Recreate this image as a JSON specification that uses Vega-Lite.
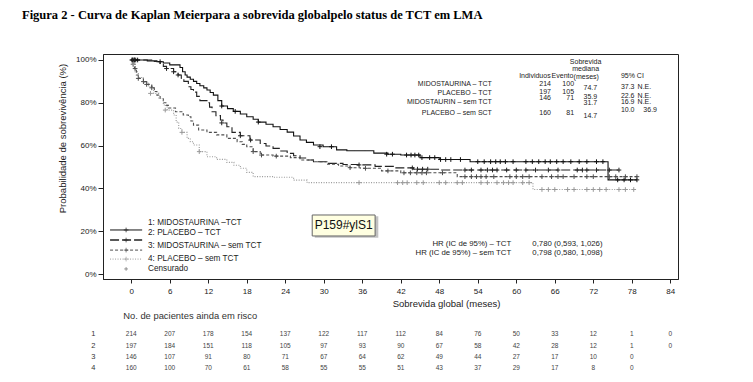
{
  "$schema": "https://vega.github.io/schema/vega-lite/v6.json",
  "width": 575,
  "height": 225,
  "autosize": {"type": "none"},
  "padding": {"left": 103, "top": 54, "right": 75, "bottom": 103},
  "background": "white",
  "config": {
    "font": "Liberation Sans",
    "view": {"stroke": "#222", "strokeWidth": 1}
  },
  "title": {
    "text": "Figura 2 - Curva de Kaplan Meierpara a sobrevida globalpelo status de TCT em LMA",
    "anchor": "start",
    "frame": "group",
    "dx": -81,
    "offset": 33,
    "font": "Liberation Serif",
    "fontSize": 12.5,
    "fontWeight": "bold",
    "color": "#000"
  },
  "datasets": {
    "curves": [
      {"g":"1","t":0,"s":100},{"g":"1","t":2.5,"s":99.6},{"g":"1","t":4,"s":99.2},{"g":"1","t":5,"s":98.6},{"g":"1","t":6,"s":97.7},{"g":"1","t":7.6,"s":96.5},{"g":"1","t":8,"s":94.5},{"g":"1","t":8.4,"s":93},{"g":"1","t":8.7,"s":92},{"g":"1","t":9.2,"s":91},{"g":"1","t":9.7,"s":90},{"g":"1","t":10.2,"s":89},{"g":"1","t":10.7,"s":88},{"g":"1","t":11.3,"s":87},{"g":"1","t":11.8,"s":86},{"g":"1","t":12.3,"s":84.8},{"g":"1","t":12.8,"s":83.6},{"g":"1","t":13.5,"s":81},{"g":"1","t":14.1,"s":78.5},{"g":"1","t":15,"s":77.3},{"g":"1","t":15.9,"s":76},{"g":"1","t":17,"s":74.8},{"g":"1","t":18,"s":73.5},{"g":"1","t":19,"s":72.3},{"g":"1","t":19.8,"s":71},{"g":"1","t":21,"s":70},{"g":"1","t":22.1,"s":68.8},{"g":"1","t":23.2,"s":67.5},{"g":"1","t":24.3,"s":66.3},{"g":"1","t":25.3,"s":64.5},{"g":"1","t":26.3,"s":62.6},{"g":"1","t":27.3,"s":61.5},{"g":"1","t":28.4,"s":60.3},{"g":"1","t":29.9,"s":59.5},{"g":"1","t":32,"s":58},{"g":"1","t":33.6,"s":57.6},{"g":"1","t":37.8,"s":56.5},{"g":"1","t":40,"s":56},{"g":"1","t":42,"s":55.6},{"g":"1","t":45,"s":54.4},{"g":"1","t":48,"s":53.5},{"g":"1","t":52.8,"s":52.5},{"g":"1","t":74.3,"s":44},{"g":"1","t":78.8,"s":44},
      {"g":"2","t":0,"s":100},{"g":"2","t":3.5,"s":99.3},{"g":"2","t":4.5,"s":98},{"g":"2","t":5,"s":97},{"g":"2","t":5.5,"s":96},{"g":"2","t":6.6,"s":94.5},{"g":"2","t":7.3,"s":93},{"g":"2","t":7.8,"s":91.5},{"g":"2","t":8.2,"s":90},{"g":"2","t":8.9,"s":87.5},{"g":"2","t":9.3,"s":86.2},{"g":"2","t":9.7,"s":85},{"g":"2","t":10.2,"s":83},{"g":"2","t":10.7,"s":81},{"g":"2","t":11.8,"s":80},{"g":"2","t":12.2,"s":78},{"g":"2","t":12.6,"s":75.8},{"g":"2","t":13.2,"s":74},{"g":"2","t":13.9,"s":72},{"g":"2","t":14.3,"s":70.6},{"g":"2","t":14.9,"s":68.8},{"g":"2","t":15.7,"s":66.2},{"g":"2","t":17,"s":64.6},{"g":"2","t":18.5,"s":62.6},{"g":"2","t":20.1,"s":61},{"g":"2","t":21,"s":59.8},{"g":"2","t":22.1,"s":58.7},{"g":"2","t":23.2,"s":57.5},{"g":"2","t":24.3,"s":56.4},{"g":"2","t":25.3,"s":55.3},{"g":"2","t":26.3,"s":54.2},{"g":"2","t":27.3,"s":53.3},{"g":"2","t":28.4,"s":52.5},{"g":"2","t":30.5,"s":51.7},{"g":"2","t":33,"s":51.2},{"g":"2","t":35.2,"s":51},{"g":"2","t":38,"s":50.3},{"g":"2","t":41,"s":49.6},{"g":"2","t":44,"s":49},{"g":"2","t":48,"s":48.6},{"g":"2","t":76,"s":48.6},
      {"g":"3","t":0,"s":100},{"g":"3","t":0.2,"s":98},{"g":"3","t":0.5,"s":96},{"g":"3","t":0.8,"s":93},{"g":"3","t":1.1,"s":91.4},{"g":"3","t":1.9,"s":89.9},{"g":"3","t":2.4,"s":88.6},{"g":"3","t":3.2,"s":87},{"g":"3","t":3.6,"s":85.3},{"g":"3","t":4,"s":83.6},{"g":"3","t":4.5,"s":82},{"g":"3","t":5,"s":80},{"g":"3","t":5.4,"s":78.8},{"g":"3","t":5.8,"s":77.6},{"g":"3","t":6.9,"s":75.8},{"g":"3","t":8.1,"s":74.3},{"g":"3","t":8.9,"s":73.5},{"g":"3","t":9.3,"s":71.5},{"g":"3","t":9.7,"s":69.6},{"g":"3","t":10.5,"s":67.3},{"g":"3","t":11.8,"s":66.2},{"g":"3","t":13.3,"s":65},{"g":"3","t":14.9,"s":63.4},{"g":"3","t":16.5,"s":61.8},{"g":"3","t":17.3,"s":60.6},{"g":"3","t":18,"s":59.5},{"g":"3","t":19,"s":57.2},{"g":"3","t":20.1,"s":55.6},{"g":"3","t":22.1,"s":55.1},{"g":"3","t":24.8,"s":54.4},{"g":"3","t":26.3,"s":53.3},{"g":"3","t":28.4,"s":52.5},{"g":"3","t":30.5,"s":51.3},{"g":"3","t":32.3,"s":50.5},{"g":"3","t":34.1,"s":49.7},{"g":"3","t":35.7,"s":49.4},{"g":"3","t":39,"s":48.2},{"g":"3","t":42,"s":47.3},{"g":"3","t":50.8,"s":45.5},{"g":"3","t":78.8,"s":45.5},
      {"g":"4","t":0,"s":100},{"g":"4","t":0.2,"s":98},{"g":"4","t":0.6,"s":94.5},{"g":"4","t":1.1,"s":91.8},{"g":"4","t":1.9,"s":89.6},{"g":"4","t":2.7,"s":87.5},{"g":"4","t":3.5,"s":84.4},{"g":"4","t":4.3,"s":82},{"g":"4","t":5,"s":79},{"g":"4","t":5.6,"s":76.6},{"g":"4","t":6.6,"s":74.3},{"g":"4","t":7,"s":71},{"g":"4","t":7.4,"s":68},{"g":"4","t":7.9,"s":66.2},{"g":"4","t":8.7,"s":63.4},{"g":"4","t":9.2,"s":61.8},{"g":"4","t":9.7,"s":60.3},{"g":"4","t":10.6,"s":57.2},{"g":"4","t":11.8,"s":54.8},{"g":"4","t":13.3,"s":53.6},{"g":"4","t":14.9,"s":52.2},{"g":"4","t":16,"s":50.8},{"g":"4","t":17,"s":49.4},{"g":"4","t":18,"s":47.5},{"g":"4","t":19,"s":45.5},{"g":"4","t":22.2,"s":45.2},{"g":"4","t":25.3,"s":43.9},{"g":"4","t":27.4,"s":42.7},{"g":"4","t":62.6,"s":39.5},{"g":"4","t":78.3,"s":39.5}
    ],
    "cens": [
      {"g":"1","t":0.1,"s":100},{"g":"1","t":0.3,"s":100},{"g":"1","t":0.5,"s":100},{"g":"1","t":0.7,"s":100},{"g":"1","t":1,"s":100},{"g":"1","t":4.5,"s":99.2},{"g":"1","t":14.1,"s":78.5},{"g":"1","t":16.2,"s":76},{"g":"1","t":19.8,"s":71},{"g":"1","t":29.4,"s":59.5},{"g":"1","t":31.2,"s":59.5},{"g":"1","t":39.8,"s":56},{"g":"1","t":40.7,"s":56},{"g":"1","t":42.9,"s":55.6},{"g":"1","t":43.6,"s":55.6},{"g":"1","t":44.2,"s":55.6},{"g":"1","t":44.8,"s":55.6},{"g":"1","t":45.3,"s":54.4},{"g":"1","t":46.5,"s":54.4},{"g":"1","t":47.3,"s":54.4},{"g":"1","t":48.2,"s":53.5},{"g":"1","t":49,"s":53.5},{"g":"1","t":49.8,"s":53.5},{"g":"1","t":51.3,"s":53.5},{"g":"1","t":54,"s":52.5},{"g":"1","t":55,"s":52.5},{"g":"1","t":56,"s":52.5},{"g":"1","t":56.8,"s":52.5},{"g":"1","t":57.5,"s":52.5},{"g":"1","t":58.3,"s":52.5},{"g":"1","t":59.5,"s":52.5},{"g":"1","t":61.5,"s":52.5},{"g":"1","t":62.5,"s":52.5},{"g":"1","t":63.5,"s":52.5},{"g":"1","t":64.5,"s":52.5},{"g":"1","t":65.3,"s":52.5},{"g":"1","t":66.3,"s":52.5},{"g":"1","t":67.3,"s":52.5},{"g":"1","t":68.5,"s":52.5},{"g":"1","t":69.8,"s":52.5},{"g":"1","t":71,"s":52.5},{"g":"1","t":72.5,"s":52.5},{"g":"1","t":73.5,"s":52.5},{"g":"1","t":75.8,"s":44},{"g":"1","t":76.8,"s":44},{"g":"1","t":77.8,"s":44},{"g":"1","t":78.8,"s":44},
      {"g":"2","t":0.2,"s":100},{"g":"2","t":0.5,"s":100},{"g":"2","t":5.5,"s":96},{"g":"2","t":6.6,"s":94.5},{"g":"2","t":7.3,"s":93},{"g":"2","t":14.1,"s":70.6},{"g":"2","t":17,"s":64.6},{"g":"2","t":18.6,"s":62.6},{"g":"2","t":35.5,"s":51},{"g":"2","t":43.8,"s":49.6},{"g":"2","t":44.6,"s":49},{"g":"2","t":45.4,"s":49},{"g":"2","t":46.2,"s":49},{"g":"2","t":52,"s":48.6},{"g":"2","t":53,"s":48.6},{"g":"2","t":54.5,"s":48.6},{"g":"2","t":55.5,"s":48.6},{"g":"2","t":56.3,"s":48.6},{"g":"2","t":57,"s":48.6},{"g":"2","t":58.5,"s":48.6},{"g":"2","t":60,"s":48.6},{"g":"2","t":61.5,"s":48.6},{"g":"2","t":63,"s":48.6},{"g":"2","t":65,"s":48.6},{"g":"2","t":66.5,"s":48.6},{"g":"2","t":69.5,"s":48.6},{"g":"2","t":70.3,"s":48.6},{"g":"2","t":71,"s":48.6},{"g":"2","t":72.5,"s":48.6},{"g":"2","t":74.5,"s":48.6},{"g":"2","t":76,"s":48.6},
      {"g":"3","t":0.3,"s":98},{"g":"3","t":0.6,"s":96},{"g":"3","t":1.1,"s":91.4},{"g":"3","t":1.9,"s":89.9},{"g":"3","t":2.4,"s":88.6},{"g":"3","t":3.2,"s":87},{"g":"3","t":19,"s":57.2},{"g":"3","t":20.3,"s":55.6},{"g":"3","t":22.6,"s":55.1},{"g":"3","t":34.1,"s":49.7},{"g":"3","t":36.5,"s":49.4},{"g":"3","t":40,"s":48.2},{"g":"3","t":42.5,"s":47.3},{"g":"3","t":43.5,"s":47.3},{"g":"3","t":44.5,"s":47.3},{"g":"3","t":45.3,"s":47.3},{"g":"3","t":46,"s":47.3},{"g":"3","t":48.5,"s":47.3},{"g":"3","t":52,"s":45.5},{"g":"3","t":53,"s":45.5},{"g":"3","t":53.8,"s":45.5},{"g":"3","t":54.5,"s":45.5},{"g":"3","t":55.3,"s":45.5},{"g":"3","t":56.5,"s":45.5},{"g":"3","t":59,"s":45.5},{"g":"3","t":60,"s":45.5},{"g":"3","t":61,"s":45.5},{"g":"3","t":62,"s":45.5},{"g":"3","t":64,"s":45.5},{"g":"3","t":65.5,"s":45.5},{"g":"3","t":66.5,"s":45.5},{"g":"3","t":67.3,"s":45.5},{"g":"3","t":69,"s":45.5},{"g":"3","t":71,"s":45.5},{"g":"3","t":72,"s":45.5},{"g":"3","t":74.5,"s":45.5},{"g":"3","t":75.5,"s":45.5},{"g":"3","t":77,"s":45.5},{"g":"3","t":78.8,"s":45.5},
      {"g":"4","t":0.3,"s":98},{"g":"4","t":3,"s":84.4},{"g":"4","t":5.3,"s":76.6},{"g":"4","t":7.9,"s":66.2},{"g":"4","t":10.6,"s":57.2},{"g":"4","t":35.5,"s":42.7},{"g":"4","t":41.5,"s":42.7},{"g":"4","t":42.3,"s":42.7},{"g":"4","t":43,"s":42.7},{"g":"4","t":44.5,"s":42.7},{"g":"4","t":45.5,"s":42.7},{"g":"4","t":48,"s":42.7},{"g":"4","t":49,"s":42.7},{"g":"4","t":50.8,"s":42.7},{"g":"4","t":51.6,"s":42.7},{"g":"4","t":54.5,"s":42.7},{"g":"4","t":55.5,"s":42.7},{"g":"4","t":57,"s":42.7},{"g":"4","t":58,"s":42.7},{"g":"4","t":58.8,"s":42.7},{"g":"4","t":59.5,"s":42.7},{"g":"4","t":61,"s":42.7},{"g":"4","t":62,"s":42.7},{"g":"4","t":64,"s":39.5},{"g":"4","t":65,"s":39.5},{"g":"4","t":66,"s":39.5},{"g":"4","t":68,"s":39.5},{"g":"4","t":69,"s":39.5},{"g":"4","t":71,"s":39.5},{"g":"4","t":72,"s":39.5},{"g":"4","t":73,"s":39.5},{"g":"4","t":74,"s":39.5},{"g":"4","t":76,"s":39.5},{"g":"4","t":77,"s":39.5},{"g":"4","t":78.3,"s":39.5}
    ],
    "risk": [
      {"r":"1","t":0,"n":214},{"r":"1","t":6,"n":207},{"r":"1","t":12,"n":178},{"r":"1","t":18,"n":154},{"r":"1","t":24,"n":137},{"r":"1","t":30,"n":122},{"r":"1","t":36,"n":117},{"r":"1","t":42,"n":112},{"r":"1","t":48,"n":84},{"r":"1","t":54,"n":76},{"r":"1","t":60,"n":50},{"r":"1","t":66,"n":33},{"r":"1","t":72,"n":12},{"r":"1","t":78,"n":1},{"r":"1","t":84,"n":0},
      {"r":"2","t":0,"n":197},{"r":"2","t":6,"n":184},{"r":"2","t":12,"n":151},{"r":"2","t":18,"n":118},{"r":"2","t":24,"n":105},{"r":"2","t":30,"n":97},{"r":"2","t":36,"n":93},{"r":"2","t":42,"n":90},{"r":"2","t":48,"n":67},{"r":"2","t":54,"n":58},{"r":"2","t":60,"n":42},{"r":"2","t":66,"n":28},{"r":"2","t":72,"n":12},{"r":"2","t":78,"n":1},{"r":"2","t":84,"n":0},
      {"r":"3","t":0,"n":146},{"r":"3","t":6,"n":107},{"r":"3","t":12,"n":91},{"r":"3","t":18,"n":80},{"r":"3","t":24,"n":71},{"r":"3","t":30,"n":67},{"r":"3","t":36,"n":64},{"r":"3","t":42,"n":62},{"r":"3","t":48,"n":49},{"r":"3","t":54,"n":44},{"r":"3","t":60,"n":27},{"r":"3","t":66,"n":17},{"r":"3","t":72,"n":10},{"r":"3","t":78,"n":0},
      {"r":"4","t":0,"n":160},{"r":"4","t":6,"n":100},{"r":"4","t":12,"n":70},{"r":"4","t":18,"n":61},{"r":"4","t":24,"n":58},{"r":"4","t":30,"n":55},{"r":"4","t":36,"n":55},{"r":"4","t":42,"n":51},{"r":"4","t":48,"n":43},{"r":"4","t":54,"n":37},{"r":"4","t":60,"n":29},{"r":"4","t":66,"n":17},{"r":"4","t":72,"n":8},{"r":"4","t":78,"n":0}
    ]
  },
  "layer": [
    {
      "data": {"name": "curves"},
      "mark": {"type": "line", "interpolate": "step-after", "strokeWidth": 1.1},
      "encoding": {
        "x": {"field": "t", "type": "quantitative", "scale": {"domain": [-4.4, 85.2], "nice": false, "zero": false},
          "axis": {"values": [0,6,12,18,24,30,36,42,48,54,60,66,72,78,84], "title": "Sobrevida global (meses)", "titleX": 343, "titleY": 24, "titleBaseline": "middle", "titleFontSize": 9.5, "titleFontWeight": "normal", "titleColor": "#222", "labelFontSize": 8, "labelColor": "#222", "tickSize": 4, "labelPadding": 4, "grid": false, "domainColor": "#222", "tickColor": "#222"}},
        "y": {"field": "s", "type": "quantitative", "scale": {"domain": [-2.3, 102.8], "nice": false, "zero": false},
          "axis": {"values": [0,20,40,60,80,100], "labelExpr": "datum.value + '%'", "title": "Probabilidade de sobrevivência (%)", "titleX": -41, "titleY": 84, "titleBaseline": "middle", "titleFontSize": 9.5, "titleFontWeight": "normal", "titleColor": "#222", "labelFontSize": 8, "labelColor": "#222", "tickSize": 5, "labelPadding": 2, "grid": false, "domainColor": "#222", "tickColor": "#222"}},
        "color": {"field": "g", "type": "nominal", "scale": {"domain": ["1","2","3","4"], "range": ["#111111","#222222","#4d4d4d","#999999"]}, "legend": null},
        "strokeDash": {"field": "g", "type": "nominal", "scale": {"domain": ["1","2","3","4"], "range": [[1,0],[9,3],[3,2],[1,1.5]]}, "legend": null}
      }
    },
    {
      "data": {"name": "cens"},
      "mark": {"type": "point", "shape": "M-1,0H1M0,-1V1", "filled": false, "size": 22, "strokeWidth": 1, "opacity": 1},
      "encoding": {
        "x": {"field": "t", "type": "quantitative"},
        "y": {"field": "s", "type": "quantitative"},
        "color": {"field": "g", "type": "nominal", "legend": null}
      }
    },
    {"data": {"values": [{}]}, "mark": {"type": "rule", "color": "#111111", "strokeWidth": 1}, "encoding": {"x": {"datum": -3.3}, "x2": {"datum": 1.7}, "y": {"datum": 20.6}}},
    {"data": {"values": [{}]}, "mark": {"type": "rule", "color": "#222222", "strokeWidth": 1.4, "strokeDash": [9,3]}, "encoding": {"x": {"datum": -3.3}, "x2": {"datum": 1.7}, "y": {"datum": 15.9}}},
    {"data": {"values": [{}]}, "mark": {"type": "rule", "color": "#4d4d4d", "strokeWidth": 1, "strokeDash": [3,2]}, "encoding": {"x": {"datum": -3.3}, "x2": {"datum": 1.7}, "y": {"datum": 11.2}}},
    {"data": {"values": [{}]}, "mark": {"type": "rule", "color": "#999999", "strokeWidth": 1, "strokeDash": [1,1.5]}, "encoding": {"x": {"datum": -3.3}, "x2": {"datum": 1.7}, "y": {"datum": 7.0}}},
    {"data": {"values": [{}]}, "mark": {"type": "point", "shape": "M-1,0H1M0,-1V1", "filled": false, "size": 22, "strokeWidth": 1, "color": "#111111"}, "encoding": {"x": {"datum": -0.8}, "y": {"datum": 20.6}}},
    {"data": {"values": [{}]}, "mark": {"type": "point", "shape": "M-1,0H1M0,-1V1", "filled": false, "size": 22, "strokeWidth": 1, "color": "#222222"}, "encoding": {"x": {"datum": -0.8}, "y": {"datum": 15.9}}},
    {"data": {"values": [{}]}, "mark": {"type": "point", "shape": "M-1,0H1M0,-1V1", "filled": false, "size": 22, "strokeWidth": 1, "color": "#4d4d4d"}, "encoding": {"x": {"datum": -0.8}, "y": {"datum": 11.2}}},
    {"data": {"values": [{}]}, "mark": {"type": "point", "shape": "M-1,0H1M0,-1V1", "filled": false, "size": 22, "strokeWidth": 1, "color": "#999999"}, "encoding": {"x": {"datum": -0.8}, "y": {"datum": 7.0}}},
    {"data": {"values": [{}]}, "mark": {"type": "point", "shape": "M-1,0H1M0,-1V1", "filled": false, "size": 14, "strokeWidth": 0.8, "color": "#444"}, "encoding": {"x": {"datum": -0.8}, "y": {"datum": 2.4}}},
    {"data": {"values": [{"label": "1: MIDOSTAURINA –TCT"}]}, "mark": {"type": "text", "align": "left", "fontSize": 8.2, "color": "#222"}, "encoding": {"x": {"datum": 2.62}, "y": {"datum": 24.0}, "text": {"field": "label"}}},
    {"data": {"values": [{"label": "2: PLACEBO – TCT"}]}, "mark": {"type": "text", "align": "left", "fontSize": 8.2, "color": "#222"}, "encoding": {"x": {"datum": 2.62}, "y": {"datum": 19.3}, "text": {"field": "label"}}},
    {"data": {"values": [{"label": "3: MIDOSTAURINA – sem TCT"}]}, "mark": {"type": "text", "align": "left", "fontSize": 8.2, "color": "#222"}, "encoding": {"x": {"datum": 2.62}, "y": {"datum": 13.1}, "text": {"field": "label"}}},
    {"data": {"values": [{"label": "4: PLACEBO – sem TCT"}]}, "mark": {"type": "text", "align": "left", "fontSize": 8.2, "color": "#222"}, "encoding": {"x": {"datum": 2.62}, "y": {"datum": 7.0}, "text": {"field": "label"}}},
    {"data": {"values": [{"label": "Censurado"}]}, "mark": {"type": "text", "align": "left", "fontSize": 8.2, "color": "#222"}, "encoding": {"x": {"datum": 2.62}, "y": {"datum": 2.4}, "text": {"field": "label"}}},

    {"data": {"values": [{"label": "Sobrevida"}]}, "mark": {"type": "text", "align": "center", "fontSize": 7, "color": "#222"}, "encoding": {"x": {"datum": 70.8}, "y": {"datum": 99.1}, "text": {"field": "label"}}},
    {"data": {"values": [{"label": "mediana"}]}, "mark": {"type": "text", "align": "center", "fontSize": 7, "color": "#222"}, "encoding": {"x": {"datum": 70.8}, "y": {"datum": 95.6}, "text": {"field": "label"}}},
    {"data": {"values": [{"label": "(meses)"}]}, "mark": {"type": "text", "align": "center", "fontSize": 7, "color": "#222"}, "encoding": {"x": {"datum": 70.9}, "y": {"datum": 92.1}, "text": {"field": "label"}}},
    {"data": {"values": [{"label": "Individuos"}]}, "mark": {"type": "text", "align": "center", "fontSize": 7, "color": "#222"}, "encoding": {"x": {"datum": 62.9}, "y": {"datum": 92.5}, "text": {"field": "label"}}},
    {"data": {"values": [{"label": "Evento"}]}, "mark": {"type": "text", "align": "center", "fontSize": 7, "color": "#222"}, "encoding": {"x": {"datum": 67.2}, "y": {"datum": 92.5}, "text": {"field": "label"}}},
    {"data": {"values": [{"label": "95% CI"}]}, "mark": {"type": "text", "align": "left", "fontSize": 7, "color": "#222"}, "encoding": {"x": {"datum": 76.3}, "y": {"datum": 92.3}, "text": {"field": "label"}}},
    {"data": {"values": [{"label": "MIDOSTAURINA – TCT"}]}, "mark": {"type": "text", "align": "right", "fontSize": 7, "color": "#222"}, "encoding": {"x": {"datum": 56.2}, "y": {"datum": 88.8}, "text": {"field": "label"}}},
    {"data": {"values": [{"label": "PLACEBO – TCT"}]}, "mark": {"type": "text", "align": "right", "fontSize": 7, "color": "#222"}, "encoding": {"x": {"datum": 56.2}, "y": {"datum": 84.6}, "text": {"field": "label"}}},
    {"data": {"values": [{"label": "MIDOSTAURIN – sem TCT"}]}, "mark": {"type": "text", "align": "right", "fontSize": 7, "color": "#222"}, "encoding": {"x": {"datum": 56.2}, "y": {"datum": 80.4}, "text": {"field": "label"}}},
    {"data": {"values": [{"label": "PLACEBO – sem SCT"}]}, "mark": {"type": "text", "align": "right", "fontSize": 7, "color": "#222"}, "encoding": {"x": {"datum": 56.2}, "y": {"datum": 75.3}, "text": {"field": "label"}}},
    {"data": {"values": [{"label": "214"}]}, "mark": {"type": "text", "align": "right", "fontSize": 7, "color": "#222"}, "encoding": {"x": {"datum": 65.4}, "y": {"datum": 88.7}, "text": {"field": "label"}}},
    {"data": {"values": [{"label": "197"}]}, "mark": {"type": "text", "align": "right", "fontSize": 7, "color": "#222"}, "encoding": {"x": {"datum": 65.4}, "y": {"datum": 85.2}, "text": {"field": "label"}}},
    {"data": {"values": [{"label": "146"}]}, "mark": {"type": "text", "align": "right", "fontSize": 7, "color": "#222"}, "encoding": {"x": {"datum": 65.4}, "y": {"datum": 82.1}, "text": {"field": "label"}}},
    {"data": {"values": [{"label": "160"}]}, "mark": {"type": "text", "align": "right", "fontSize": 7, "color": "#222"}, "encoding": {"x": {"datum": 65.4}, "y": {"datum": 75.1}, "text": {"field": "label"}}},
    {"data": {"values": [{"label": "100"}]}, "mark": {"type": "text", "align": "right", "fontSize": 7, "color": "#222"}, "encoding": {"x": {"datum": 69.0}, "y": {"datum": 88.7}, "text": {"field": "label"}}},
    {"data": {"values": [{"label": "105"}]}, "mark": {"type": "text", "align": "right", "fontSize": 7, "color": "#222"}, "encoding": {"x": {"datum": 69.0}, "y": {"datum": 85.2}, "text": {"field": "label"}}},
    {"data": {"values": [{"label": "71"}]}, "mark": {"type": "text", "align": "right", "fontSize": 7, "color": "#222"}, "encoding": {"x": {"datum": 69.0}, "y": {"datum": 82.1}, "text": {"field": "label"}}},
    {"data": {"values": [{"label": "81"}]}, "mark": {"type": "text", "align": "right", "fontSize": 7, "color": "#222"}, "encoding": {"x": {"datum": 69.0}, "y": {"datum": 75.1}, "text": {"field": "label"}}},
    {"data": {"values": [{"label": "74.7"}]}, "mark": {"type": "text", "align": "right", "fontSize": 7, "color": "#222"}, "encoding": {"x": {"datum": 72.6}, "y": {"datum": 87.1}, "text": {"field": "label"}}},
    {"data": {"values": [{"label": "35.9"}]}, "mark": {"type": "text", "align": "right", "fontSize": 7, "color": "#222"}, "encoding": {"x": {"datum": 72.6}, "y": {"datum": 82.9}, "text": {"field": "label"}}},
    {"data": {"values": [{"label": "31.7"}]}, "mark": {"type": "text", "align": "right", "fontSize": 7, "color": "#222"}, "encoding": {"x": {"datum": 72.6}, "y": {"datum": 79.8}, "text": {"field": "label"}}},
    {"data": {"values": [{"label": "14.7"}]}, "mark": {"type": "text", "align": "right", "fontSize": 7, "color": "#222"}, "encoding": {"x": {"datum": 72.6}, "y": {"datum": 74.0}, "text": {"field": "label"}}},
    {"data": {"values": [{"label": "37.3"}]}, "mark": {"type": "text", "align": "left", "fontSize": 7, "color": "#222"}, "encoding": {"x": {"datum": 76.3}, "y": {"datum": 87.3}, "text": {"field": "label"}}},
    {"data": {"values": [{"label": "22.6"}]}, "mark": {"type": "text", "align": "left", "fontSize": 7, "color": "#222"}, "encoding": {"x": {"datum": 76.3}, "y": {"datum": 83.3}, "text": {"field": "label"}}},
    {"data": {"values": [{"label": "16.9"}]}, "mark": {"type": "text", "align": "left", "fontSize": 7, "color": "#222"}, "encoding": {"x": {"datum": 76.3}, "y": {"datum": 80.2}, "text": {"field": "label"}}},
    {"data": {"values": [{"label": "10.0"}]}, "mark": {"type": "text", "align": "left", "fontSize": 7, "color": "#222"}, "encoding": {"x": {"datum": 76.3}, "y": {"datum": 76.6}, "text": {"field": "label"}}},
    {"data": {"values": [{"label": "N.E."}]}, "mark": {"type": "text", "align": "left", "fontSize": 7, "color": "#222"}, "encoding": {"x": {"datum": 78.9}, "y": {"datum": 87.3}, "text": {"field": "label"}}},
    {"data": {"values": [{"label": "N.E."}]}, "mark": {"type": "text", "align": "left", "fontSize": 7, "color": "#222"}, "encoding": {"x": {"datum": 78.9}, "y": {"datum": 83.3}, "text": {"field": "label"}}},
    {"data": {"values": [{"label": "N.E."}]}, "mark": {"type": "text", "align": "left", "fontSize": 7, "color": "#222"}, "encoding": {"x": {"datum": 78.9}, "y": {"datum": 80.2}, "text": {"field": "label"}}},
    {"data": {"values": [{"label": "36.9"}]}, "mark": {"type": "text", "align": "left", "fontSize": 7, "color": "#222"}, "encoding": {"x": {"datum": 79.8}, "y": {"datum": 76.6}, "text": {"field": "label"}}},

    {"data": {"values": [{"label": "HR (IC de 95%) – TCT"}]}, "mark": {"type": "text", "align": "right", "fontSize": 7.8, "color": "#222"}, "encoding": {"x": {"datum": 59.2}, "y": {"datum": 14.1}, "text": {"field": "label"}}},
    {"data": {"values": [{"label": "HR (IC de 95%) – sem TCT"}]}, "mark": {"type": "text", "align": "right", "fontSize": 7.8, "color": "#222"}, "encoding": {"x": {"datum": 59.2}, "y": {"datum": 9.9}, "text": {"field": "label"}}},
    {"data": {"values": [{"label": "0,780 (0,593, 1,026)"}]}, "mark": {"type": "text", "align": "left", "fontSize": 7.8, "color": "#222"}, "encoding": {"x": {"datum": 62.5}, "y": {"datum": 14.1}, "text": {"field": "label"}}},
    {"data": {"values": [{"label": "0,798 (0,580, 1,098)"}]}, "mark": {"type": "text", "align": "left", "fontSize": 7.8, "color": "#222"}, "encoding": {"x": {"datum": 62.5}, "y": {"datum": 9.9}, "text": {"field": "label"}}},

    {"data": {"values": [{}]}, "mark": {"type": "rect", "color": "#9a9a9a", "opacity": 0.6}, "encoding": {"x": {"datum": 28.6}, "x2": {"datum": 38.5}, "y": {"datum": 27.0}, "y2": {"datum": 17.0}}},
    {"data": {"values": [{}]}, "mark": {"type": "rect", "fill": "#ffffe1", "stroke": "#666666", "strokeWidth": 1}, "encoding": {"x": {"datum": 28.2}, "x2": {"datum": 38.0}, "y": {"datum": 27.6}, "y2": {"datum": 17.8}}},
    {"data": {"values": [{"label": "P159#ylS1"}]}, "mark": {"type": "text", "align": "center", "fontSize": 12, "color": "#111"}, "encoding": {"x": {"datum": 33.1}, "y": {"datum": 22.7}, "text": {"field": "label"}}},

    {"data": {"values": [{"label": "No. de pacientes ainda em risco"}]}, "mark": {"type": "text", "align": "left", "fontSize": 9.4, "color": "#333"}, "encoding": {"x": {"datum": -1.25}, "y": {"datum": -19.6}, "text": {"field": "label"}}},
    {"data": {"values": [{"label": "1"}]}, "mark": {"type": "text", "align": "center", "fontSize": 7.5, "color": "#333"}, "encoding": {"x": {"datum": -5.9}, "y": {"datum": -28.0}, "text": {"field": "label"}}},
    {"data": {"values": [{"label": "2"}]}, "mark": {"type": "text", "align": "center", "fontSize": 7.5, "color": "#333"}, "encoding": {"x": {"datum": -5.9}, "y": {"datum": -33.6}, "text": {"field": "label"}}},
    {"data": {"values": [{"label": "3"}]}, "mark": {"type": "text", "align": "center", "fontSize": 7.5, "color": "#333"}, "encoding": {"x": {"datum": -5.9}, "y": {"datum": -38.7}, "text": {"field": "label"}}},
    {"data": {"values": [{"label": "4"}]}, "mark": {"type": "text", "align": "center", "fontSize": 7.5, "color": "#333"}, "encoding": {"x": {"datum": -5.9}, "y": {"datum": -43.8}, "text": {"field": "label"}}},
    {"data": {"name": "risk"}, "transform": [{"filter": "datum.r == '1'"}], "mark": {"type": "text", "align": "center", "fontSize": 6.5, "color": "#444"}, "encoding": {"x": {"field": "t", "type": "quantitative"}, "y": {"datum": -28.0}, "text": {"field": "n", "type": "quantitative"}}},
    {"data": {"name": "risk"}, "transform": [{"filter": "datum.r == '2'"}], "mark": {"type": "text", "align": "center", "fontSize": 6.5, "color": "#444"}, "encoding": {"x": {"field": "t", "type": "quantitative"}, "y": {"datum": -33.6}, "text": {"field": "n", "type": "quantitative"}}},
    {"data": {"name": "risk"}, "transform": [{"filter": "datum.r == '3'"}], "mark": {"type": "text", "align": "center", "fontSize": 6.5, "color": "#444"}, "encoding": {"x": {"field": "t", "type": "quantitative"}, "y": {"datum": -38.7}, "text": {"field": "n", "type": "quantitative"}}},
    {"data": {"name": "risk"}, "transform": [{"filter": "datum.r == '4'"}], "mark": {"type": "text", "align": "center", "fontSize": 6.5, "color": "#444"}, "encoding": {"x": {"field": "t", "type": "quantitative"}, "y": {"datum": -43.8}, "text": {"field": "n", "type": "quantitative"}}}
  ]
}
